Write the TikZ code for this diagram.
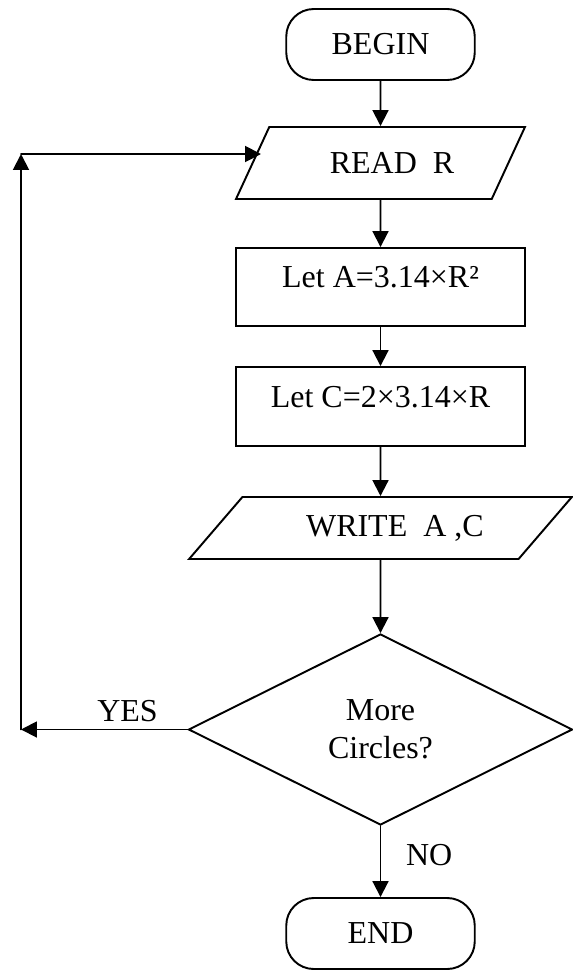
\documentclass[tikz,border=0pt]{standalone}
\usepackage{fontspec}
\setmainfont{Liberation Serif}
\usetikzlibrary{arrows.meta, positioning, shapes.geometric}

\begin{document}
\begin{tikzpicture}[>={Triangle[length=9pt,width=9pt]}, line cap=round,
  font=\fontsize{18.2}{21.8}\selectfont]

% --------- styles ----------
\tikzset{
  term/.style={draw, line width=1.1pt, rounded corners=0.55cm,
    minimum width=3.77cm, minimum height=1.42cm, inner sep=2pt},
  io/.style={draw, line width=1.1pt, trapezium, trapezium stretches=true, inner sep=2pt},
  proc/.style={draw, line width=1.1pt, rectangle, minimum width=5.78cm,
    text height=12pt, text depth=11pt, inner sep=2pt},
  dec/.style={draw, line width=1.1pt, diamond, aspect=2, minimum width=7.68cm,
    minimum height=3.82cm, align=center, inner sep=1pt},
  arr/.style={->, line width=1.1pt},
  lbl/.style={inner sep=2pt}
}
\def\cx{7.61}      % centre line of the chart

\useasboundingbox (0,0) rectangle (11.46,-19.54);

% ===================== boxes =====================
\node[term] (begin) at (\cx,-0.89) {BEGIN};
\node[io, trapezium left angle=50.7, trapezium right angle=129.3,
  minimum width=5.78cm, minimum height=1.44cm] (read) at (\cx,-3.26) {\hspace*{0.72em}READ\ \ R};
\node[proc, minimum height=1.56cm] (leta) at (\cx,-5.74) {Let A=3.14×R²};
\node[proc, minimum height=1.58cm] (letc) at (\cx,-8.13) {Let C=2×3.14×R};
\node[io, trapezium left angle=38.8, trapezium right angle=141.2,
  minimum width=7.66cm, minimum height=1.24cm] (write) at (\cx,-10.56) {\hspace*{0.9em}WRITE\ \ A ,C};
\node[dec] (more) at (\cx,-14.59) {More\\Circles?};
\node[term] (end) at (\cx,-18.67) {END};

% loop back corners
\coordinate (yb) at (0.42,-14.59);
\coordinate (yt) at (0.42,-3.08);
\coordinate (rin) at (5.22,-3.08);

% ===================== flow =====================
\draw[arr] (begin) -- (read);
\draw[arr] (read) -- (leta);
\draw[arr] (leta) -- (letc);
\draw[arr] (letc) -- (write);
\draw[arr] (write) -- (more);
\draw[arr] (more) -- node[lbl, pos=0.41, right=12pt] (no) {NO} (end);

% YES: back to READ
\draw[arr] (more) -- node[lbl, pos=0.36, above=2pt] (yes) {YES} (yb);
\draw[arr] (yb) -- (yt);
\draw[arr] (yt) -- (rin);

\end{tikzpicture}
\end{document}
